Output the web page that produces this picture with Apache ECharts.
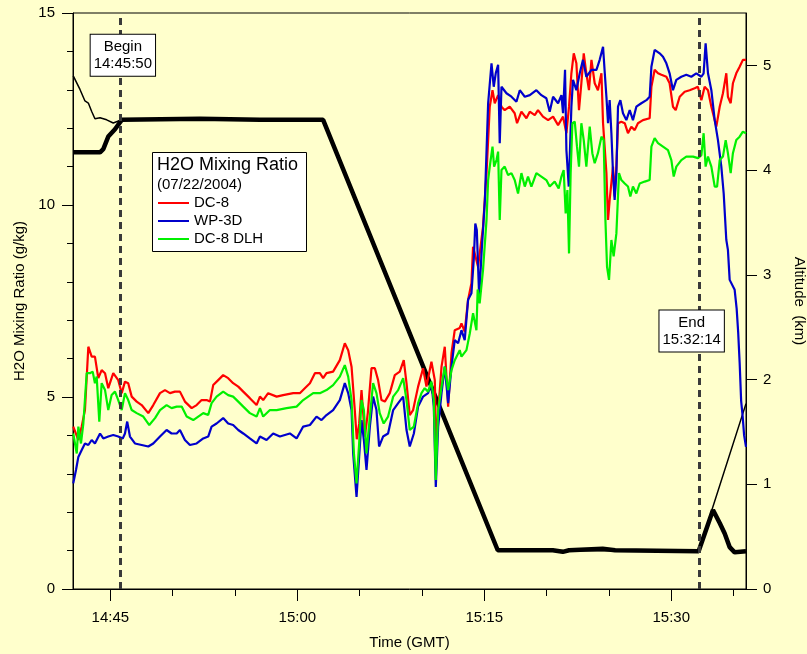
<!DOCTYPE html>
<html>
<head>
<meta charset="utf-8">
<script src="https://cdn.jsdelivr.net/npm/echarts@6/dist/echarts.min.js"></script>
<style>
html,body{margin:0;padding:0;background:#FFFFCC;overflow:hidden;}
#chart{width:807px;height:654px;}
</style>
</head>
<body>
<div id="chart"></div>
<script>
// time in minutes after 14:00 GMT
const xTickValues = [45, 60, 75, 90];
const xTickLabels = ['14:45', '15:00', '15:15', '15:30'];
const xMinorTicks = [50, 55, 65, 70, 80, 85, 95];
const altTickValues = [0, 1, 2, 3, 4, 5];
const beginTime = 45.833;   // 14:45:50
const endTime = 92.233;     // 15:32:14

const dc8 = [
[42.02,4.23],[42.43,3.88],[42.70,4.23],[42.96,4.66],[43.23,6.31],[43.50,6.05],[43.76,6.05],[44.03,5.49],[44.30,5.70],[44.57,5.62],
[44.83,5.23],[45.23,5.62],[45.63,5.44],[45.91,5.10],[46.17,5.40],[46.43,5.36],[46.71,5.01],[47.11,4.88],[47.51,4.79],[48.04,4.58],
[48.44,4.79],[48.98,5.10],[49.38,5.18],[49.78,5.10],[50.18,5.14],[50.58,5.14],[50.98,4.88],[51.52,4.71],[51.92,4.79],[52.32,4.92],
[52.72,4.92],[52.99,4.88],[53.25,5.31],[53.65,5.44],[54.05,5.57],[54.45,5.49],[54.85,5.36],[55.26,5.27],[55.66,5.14],[56.19,4.97],
[56.73,4.79],[57.00,5.01],[57.26,4.92],[57.66,5.10],[58.34,5.01],[58.86,5.05],[59.67,5.10],[60.20,5.10],[60.60,5.23],[61.01,5.36],
[61.41,5.62],[61.81,5.62],[62.07,5.49],[62.34,5.62],[62.87,5.66],[63.41,5.96],[63.81,6.40],[64.08,6.22],[64.35,5.79],[64.61,4.66],
[64.77,3.90],[64.96,4.30],[65.15,5.18],[65.42,3.97],[65.66,4.60],[65.95,5.75],[66.22,5.75],[66.48,5.44],[66.75,4.92],[67.02,4.88],
[67.42,5.10],[67.82,5.57],[68.22,5.66],[68.54,5.96],[68.76,5.36],[69.02,4.53],[69.29,4.66],[69.69,5.27],[70.09,5.75],[70.36,5.27],
[70.76,5.92],[71.03,5.44],[71.15,3.60],[71.30,4.60],[71.57,5.79],[71.83,6.31],[72.10,4.75],[72.37,6.14],[72.63,6.74],[73.03,6.80],
[73.17,6.92],[73.43,6.70],[73.70,7.53],[73.97,7.96],[74.10,8.91],[74.50,8.39],[74.90,9.43],[75.18,10.83],[75.44,12.56],[75.66,12.99],
[75.84,12.65],[76.11,12.86],[76.38,12.56],[76.64,12.47],[77.04,12.56],[77.44,12.39],[77.63,12.13],[77.98,12.43],[78.38,12.26],[78.65,12.43],
[79.05,12.34],[79.31,12.47],[79.71,12.30],[80.12,12.21],[80.52,12.30],[80.92,12.08],[81.32,12.30],[81.59,11.87],[81.80,12.56],[81.99,13.43],
[82.18,13.95],[82.39,13.69],[82.60,12.47],[82.79,13.17],[82.98,13.95],[83.19,13.43],[83.40,12.99],[83.60,13.78],[83.86,13.17],[84.12,12.99],
[84.40,13.43],[84.53,12.13],[84.80,10.83],[84.93,9.61],[85.06,10.13],[85.33,11.00],[85.46,10.22],[85.60,11.00],[85.73,12.13],[86.00,12.17],
[86.27,12.13],[86.53,11.87],[86.80,12.04],[87.07,11.95],[87.33,12.13],[87.73,12.21],[88.27,12.26],[88.41,13.08],[88.67,13.52],[88.94,13.43],
[89.21,13.39],[89.61,13.34],[89.87,13.17],[90.14,12.56],[90.36,12.47],[90.68,12.82],[91.08,12.95],[91.48,12.99],[91.88,13.04],[92.14,13.08],
[92.42,12.73],[92.68,13.08],[92.95,12.99],[93.22,12.56],[93.62,12.04],[93.89,12.56],[94.15,12.91],[94.42,13.43],[94.55,12.82],[94.77,12.65],
[94.95,13.17],[95.22,13.43],[95.49,13.60],[95.75,13.78],[96.00,13.78]
];

const wp3d = [
[42.02,2.75],[42.24,3.10],[42.43,3.44],[42.70,3.62],[42.96,3.79],[43.23,3.75],[43.50,3.88],[43.76,3.79],[44.17,4.05],[44.43,3.92],
[44.83,3.97],[45.23,4.01],[45.63,3.97],[45.99,3.92],[46.17,4.05],[46.35,4.36],[46.57,3.97],[46.97,3.79],[47.51,3.75],[48.04,3.71],
[48.44,3.79],[48.98,3.97],[49.51,4.14],[49.91,4.05],[50.32,4.05],[50.58,4.14],[50.98,3.88],[51.38,3.75],[51.92,3.79],[52.45,3.92],
[52.85,3.97],[53.12,4.23],[53.52,4.31],[54.05,4.45],[54.45,4.31],[54.85,4.27],[55.26,4.14],[55.66,4.05],[56.19,3.92],[56.73,3.79],
[57.00,3.97],[57.53,3.88],[58.06,4.05],[58.60,3.97],[59.40,4.05],[59.94,3.92],[60.47,4.23],[61.01,4.27],[61.54,4.49],[61.94,4.40],
[62.34,4.53],[62.87,4.66],[63.41,4.92],[63.81,5.36],[64.08,5.10],[64.35,4.66],[64.48,3.53],[64.75,2.40],[64.96,3.44],[65.15,4.40],
[65.34,3.88],[65.55,3.10],[65.82,4.23],[66.08,5.01],[66.35,4.66],[66.56,3.71],[66.88,3.97],[67.28,4.05],[67.69,4.66],[68.09,4.84],
[68.49,5.01],[68.76,4.14],[69.02,3.71],[69.35,4.05],[69.69,4.75],[70.09,5.01],[70.49,5.10],[70.76,5.36],[70.95,4.75],[71.11,2.66],
[71.30,4.23],[71.57,5.10],[71.83,5.79],[72.10,4.84],[72.37,5.79],[72.63,6.48],[72.90,6.40],[73.17,6.74],[73.43,6.48],[73.70,7.53],
[73.97,7.70],[74.16,8.60],[74.28,9.52],[74.40,9.35],[74.59,7.61],[74.78,8.74],[75.05,10.13],[75.31,12.65],[75.58,13.69],[75.76,13.08],
[75.92,13.43],[76.11,13.65],[76.24,11.61],[76.38,13.08],[76.78,12.91],[77.18,12.82],[77.58,12.69],[77.85,12.99],[78.25,12.82],[78.65,12.86],
[79.18,12.99],[79.58,12.86],[79.98,12.78],[80.25,12.43],[80.52,12.82],[80.92,12.65],[81.19,12.86],[81.32,12.39],[81.48,13.52],[81.59,11.43],
[81.78,10.48],[81.99,12.56],[82.12,13.26],[82.39,12.99],[82.66,13.43],[82.92,13.78],[83.19,13.34],[83.60,13.52],[84.00,13.52],[84.26,13.78],
[84.53,14.12],[84.67,13.43],[84.80,12.82],[84.93,12.13],[85.06,12.73],[85.20,11.87],[85.33,10.83],[85.46,10.13],[85.60,10.83],[85.73,12.56],
[85.92,12.73],[86.13,12.39],[86.40,12.21],[86.67,12.47],[86.93,12.21],[87.20,12.56],[87.60,12.65],[88.01,12.73],[88.27,12.82],[88.41,13.60],
[88.67,14.04],[89.07,13.95],[89.34,13.86],[89.61,13.69],[89.87,13.43],[90.14,12.99],[90.41,13.26],[90.81,13.34],[91.21,13.39],[91.61,13.34],
[92.01,13.43],[92.42,13.34],[92.60,13.43],[92.76,14.21],[92.95,13.43],[93.22,12.99],[93.49,12.21],[93.75,11.69],[94.02,11.00],[94.21,10.30],
[94.42,9.09],[94.55,8.83],[94.69,8.05],[95.09,7.79],[95.25,7.30],[95.37,6.70],[95.49,5.90],[95.61,4.90],[95.73,4.50],[95.85,4.00],
[96.00,3.70]
];

const dc8dlh = [
[42.02,4.05],[42.30,3.53],[42.43,4.23],[42.64,3.79],[42.83,4.31],[43.10,5.62],[43.36,5.62],[43.58,5.66],[43.76,5.36],[43.90,5.53],
[44.11,4.36],[44.30,5.36],[44.57,5.18],[44.83,4.66],[45.10,5.05],[45.37,5.14],[45.63,4.92],[45.91,4.66],[46.17,5.10],[46.43,4.92],
[46.71,4.66],[47.11,4.58],[47.64,4.49],[48.12,4.27],[48.58,4.45],[48.98,4.66],[49.51,4.79],[49.91,4.71],[50.32,4.75],[50.72,4.75],
[51.12,4.49],[51.65,4.40],[52.05,4.49],[52.45,4.58],[52.85,4.53],[53.12,4.84],[53.52,5.01],[54.05,5.14],[54.45,5.05],[54.85,5.01],
[55.26,4.88],[55.66,4.75],[56.19,4.58],[56.73,4.49],[57.00,4.71],[57.26,4.49],[57.80,4.66],[58.34,4.66],[59.14,4.71],[59.94,4.75],
[60.47,4.92],[61.27,5.10],[61.81,5.10],[62.34,5.18],[62.87,5.31],[63.41,5.53],[63.81,5.83],[64.08,5.53],[64.35,4.92],[64.54,3.53],
[64.75,2.75],[64.96,3.79],[65.15,4.92],[65.34,4.66],[65.55,3.53],[65.82,4.49],[66.08,5.36],[66.35,5.10],[66.61,4.58],[66.93,4.31],
[67.28,4.49],[67.69,5.01],[68.09,5.18],[68.49,5.49],[68.76,4.92],[69.02,4.14],[69.35,4.23],[69.69,4.84],[69.96,5.10],[70.22,5.23],
[70.49,5.14],[70.76,5.40],[70.95,4.92],[71.11,2.84],[71.30,4.66],[71.57,5.27],[71.83,5.79],[72.10,5.18],[72.37,5.70],[72.63,5.96],
[73.03,6.22],[73.17,6.05],[73.57,6.22],[73.84,6.66],[74.10,7.18],[74.37,6.74],[74.47,7.80],[74.63,7.44],[74.90,8.31],[75.18,9.61],
[75.31,10.65],[75.44,11.00],[75.66,11.52],[75.79,11.00],[75.98,11.17],[76.11,11.39],[76.24,9.61],[76.38,10.91],[76.64,11.00],[76.91,10.78],
[77.18,10.83],[77.44,10.65],[77.71,10.30],[77.98,10.83],[78.25,10.48],[78.51,10.74],[78.78,10.48],[79.18,10.83],[79.58,10.74],[79.98,10.65],
[80.25,10.48],[80.65,10.61],[80.97,10.43],[81.19,10.74],[81.37,10.91],[81.53,9.78],[81.67,10.39],[81.80,8.74],[81.93,10.83],[82.07,12.13],
[82.26,12.17],[82.44,11.52],[82.60,11.00],[82.79,12.13],[82.98,11.69],[83.19,11.00],[83.46,12.04],[83.67,11.35],[83.86,11.09],[84.12,11.35],
[84.40,11.78],[84.58,11.69],[84.72,9.61],[84.85,8.39],[85.01,8.05],[85.20,9.09],[85.38,8.66],[85.60,9.26],[85.81,10.83],[86.00,10.65],
[86.27,10.56],[86.53,10.48],[86.72,10.22],[86.93,10.48],[87.20,10.30],[87.47,10.56],[87.87,10.61],[88.27,10.65],[88.41,11.52],[88.67,11.74],
[88.94,11.61],[89.34,11.52],[89.74,11.43],[90.01,11.17],[90.20,10.74],[90.41,11.00],[90.81,11.17],[91.21,11.26],[91.75,11.26],[92.15,11.22],
[92.42,11.30],[92.60,11.87],[92.76,11.00],[92.95,11.26],[93.22,11.00],[93.49,10.48],[93.68,10.48],[93.89,11.17],[94.15,11.26],[94.37,11.69],
[94.55,11.35],[94.77,10.83],[94.95,11.35],[95.22,11.69],[95.49,11.78],[95.75,11.91],[96.00,11.87]
];

// altitude (km)
const dc8Alt = [
[42.00,4.17],[44.17,4.17],[44.43,4.20],[44.83,4.32],[45.37,4.39],[45.91,4.48],[52.18,4.49],[57.00,4.48],[62.07,4.48],
[76.08,0.37],[80.50,0.37],[81.30,0.355],[81.80,0.37],[84.50,0.385],[85.50,0.37],[92.20,0.36],[93.35,0.755],[93.89,0.63],
[94.29,0.53],[94.69,0.40],[95.09,0.35],[96.00,0.36]
];
const wp3dAlt = [
[42.02,4.90],[42.56,4.77],[42.96,4.66],[43.23,4.64],[43.50,4.56],[43.76,4.49],[44.17,4.50],[44.70,4.48],[45.23,4.45],
[45.91,4.48],[62.07,4.48],[76.08,0.37],[92.20,0.36],[96.00,1.77]
];

const FONT = "'Liberation Sans', Arial, sans-serif";
const chart = echarts.init(document.getElementById('chart'), null, {renderer: 'canvas'});

function h2oSeries(name, data, color) {
  return {
    name: name, type: 'line', data: data, xAxisIndex: 0, yAxisIndex: 0,
    showSymbol: false, symbol: 'none', z: 3,
    lineStyle: {color: color, width: 2.2}, itemStyle: {color: color}
  };
}

const boxLabel = {
  show: true, position: 'inside', color: '#000', fontFamily: FONT, fontSize: 15,
  lineHeight: 17, backgroundColor: '#fff', borderColor: '#000', borderWidth: 1,
  padding: [4, 3, 3, 3], align: 'center'
};

const redSeries = h2oSeries('DC-8', dc8, '#FF0000');
redSeries.markLine = {
  silent: true, symbol: 'none', animation: false,
  lineStyle: {color: '#3a3a3a', width: 3, type: [7, 5]},
  label: {show: false},
  data: [{xAxis: beginTime}, {xAxis: endTime}]
};
redSeries.markPoint = {
  silent: true, symbol: 'rect', symbolSize: 0, animation: false,
  data: [
    {coord: [46.0, 13.9], label: Object.assign({}, boxLabel, {formatter: 'Begin\n14:45:50'})},
    {coord: [91.64, 6.72], label: Object.assign({}, boxLabel, {formatter: 'End\n15:32:14'})}
  ]
};

const option = {
  animation: false,
  backgroundColor: '#FFFFCC',
  textStyle: {fontFamily: FONT},
  grid: {left: 73, right: 61, top: 13, bottom: 65, containLabel: false, outerBoundsMode: 'none',
    show: true, borderColor: '#000', borderWidth: 1, backgroundColor: 'transparent'},
  xAxis: [
    {
      type: 'value', min: 42, max: 96, position: 'bottom',
      name: 'Time (GMT)', nameLocation: 'middle', nameGap: 46,
      nameTextStyle: {color: '#000', fontSize: 15, fontFamily: FONT},
      axisLine: {show: true, lineStyle: {color: '#000', width: 1}},
      axisTick: {show: true, inside: false, length: 12, customValues: xTickValues, lineStyle: {color: '#000', width: 1}},
      axisLabel: {show: true, customValues: xTickValues, margin: 21, color: '#000', fontSize: 15, fontFamily: FONT,
        formatter: function (v) { const i = xTickValues.indexOf(v); return i >= 0 ? xTickLabels[i] : ''; }},
      splitLine: {show: false}
    },
    {
      type: 'value', min: 42, max: 96, position: 'bottom',
      axisLine: {show: false},
      axisTick: {show: true, inside: false, length: 7, customValues: xMinorTicks, lineStyle: {color: '#000', width: 1}},
      axisLabel: {show: false},
      splitLine: {show: false}
    }
  ],
  yAxis: [
    {
      type: 'value', min: 0, max: 15, interval: 5, position: 'left',
      name: 'H2O Mixing Ratio (g/kg)', nameLocation: 'middle', nameGap: 46, nameRotate: 90,
      nameTextStyle: {color: '#000', fontSize: 15, fontFamily: FONT},
      axisLine: {show: true, lineStyle: {color: '#000', width: 1}},
      axisTick: {show: true, inside: false, length: 11, lineStyle: {color: '#000', width: 1}},
      minorTick: {show: true, splitNumber: 5, length: 6, lineStyle: {color: '#000', width: 1}},
      axisLabel: {margin: 18, color: '#000', fontSize: 15, fontFamily: FONT},
      splitLine: {show: false}, minorSplitLine: {show: false}
    },
    {
      type: 'value', min: 0, max: 5.5, position: 'right',
      name: 'Altitude  (km)', nameLocation: 'middle', nameGap: 46, nameRotate: -90,
      nameTextStyle: {color: '#000', fontSize: 15, fontFamily: FONT},
      axisLine: {show: true, lineStyle: {color: '#000', width: 1}},
      axisTick: {show: true, inside: false, length: 11, customValues: altTickValues, lineStyle: {color: '#000', width: 1}},
      axisLabel: {customValues: altTickValues, margin: 17, color: '#000', fontSize: 15, fontFamily: FONT},
      splitLine: {show: false}
    }
  ],
  legend: {
    show: true, orient: 'vertical', left: 158, top: 194, z: 10,
    padding: 0, itemGap: 0, itemWidth: 31, itemHeight: 2, icon: 'rect',
    selectedMode: false,
    textStyle: {color: '#000', fontSize: 15, fontFamily: FONT, lineHeight: 18},
    data: ['DC-8', 'WP-3D', 'DC-8 DLH']
  },
  graphic: [
    {type: 'rect', left: 152, top: 152, z: 8, shape: {width: 154, height: 99},
      style: {fill: '#fff', stroke: '#000', lineWidth: 1}},
    {type: 'text', left: 157, top: 156, z: 9,
      style: {text: 'H2O Mixing Ratio', fill: '#000', font: "18px 'Liberation Sans', Arial, sans-serif"}},
    {type: 'text', left: 157, top: 177, z: 9,
      style: {text: '(07/22/2004)', fill: '#000', font: "15px 'Liberation Sans', Arial, sans-serif"}}
  ],
  series: [
    {
      name: 'DC-8 Altitude', type: 'line', data: dc8Alt, xAxisIndex: 0, yAxisIndex: 1,
      showSymbol: false, symbol: 'none', z: 2,
      lineStyle: {color: '#000', width: 4.5}, itemStyle: {color: '#000'}
    },
    {
      name: 'WP-3D Altitude', type: 'line', data: wp3dAlt, xAxisIndex: 0, yAxisIndex: 1,
      showSymbol: false, symbol: 'none', z: 2,
      lineStyle: {color: '#000', width: 1.5}, itemStyle: {color: '#000'}
    },
    redSeries,
    h2oSeries('WP-3D', wp3d, '#0000CC'),
    h2oSeries('DC-8 DLH', dc8dlh, '#00F000')
  ]
};
chart.setOption(option);
</script>
</body>
</html>
